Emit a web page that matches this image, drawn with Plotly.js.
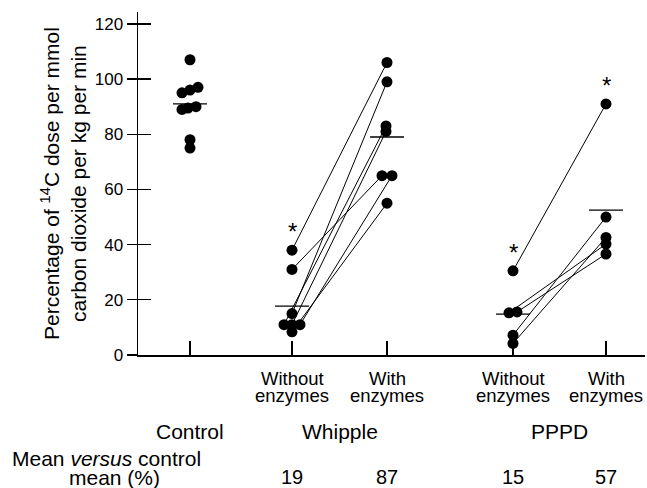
<!DOCTYPE html>
<html><head><meta charset="utf-8">
<script src="https://cdn.plot.ly/plotly-3.0.1.min.js"></script>
<style>html,body{margin:0;padding:0;background:#fff}#chart{width:647px;height:488px}</style>
</head><body><div id="chart"></div>
<script>
// ---- data ----
const groupNames = ["Control", "Whipple", "PPPD"];
const conditionNames = ["Without", "With"];
const controlValues = [107, 97, 96, 95, 90, 89.5, 89, 78, 75];
const whippleWithout = [38, 31, 15, 11, 11, 11, 8.4];
const whippleWith = [106, 65, 99, 83, 81, 65, 55];
const pppdWithout = [30.5, 15.3, 15.6, 7.2, 4.2];
const pppdWith = [91, 40.2, 36.6, 50, 42.6];
const columnMeans = [91, 17.7, 79, 14.8, 52.5];
const meanVsControl = ["19", "87", "15", "57"];
const yTicks = [0, 20, 40, 60, 80, 100, 120];
const starred = [[1, 0], [3, 0], [4, 0]]; // [column, point index]

// ---- layout helpers (positions / jitter, not data) ----
const colPos = [1.90, 2.92, 3.87, 5.13, 6.06];
const U = 0.01; // one pixel in x units
const jitter = [
  [0, 8, 0, -8, 6, -2, -8, 0, 0],
  [0, 0, 0, -8, 0, 8, 0],
  [0, -5, 0, -1, -1, 5, 0],
  [0, -4, 4, 0, 0],
  [0, 0, 0, 0, 0]
];
const colValues = [controlValues, whippleWithout, whippleWith, pppdWithout, pppdWith];
const xs = c => colValues[c].map((v, i) => colPos[c] + jitter[c][i] * U);

const FONT = "Liberation Sans, Arial, Helvetica, sans-serif";
const plotTop = 12, plotBottom = 355, plotLeft = 138, plotRight = 645;
const py = p => (plotBottom - p) / (plotBottom - plotTop);
const px = p => (p - plotLeft) / (plotRight - plotLeft);

function pairLines(a, b) {
  const xa = xs(a), xb = xs(b), X = [], Y = [];
  colValues[a].forEach((v, i) => { X.push(xa[i], xb[i], null); Y.push(v, colValues[b][i], null); });
  return {x: X, y: Y, mode: "lines", line: {color: "#000", width: 1}, hoverinfo: "skip", showlegend: false};
}
function markers(c, axis) {
  return {x: xs(c), y: colValues[c], mode: "markers", yaxis: axis || "y",
    marker: {color: "#000", size: 11}, showlegend: false, hoverinfo: "y"};
}
const meanX = [], meanY = [];
columnMeans.forEach((m, c) => { meanX.push(colPos[c] - 0.17, colPos[c] + 0.17, null); meanY.push(m, m, null); });

const traces = [
  pairLines(1, 2), pairLines(3, 4),
  {x: meanX, y: meanY, mode: "lines", line: {color: "#000", width: 1.3}, hoverinfo: "skip", showlegend: false},
  markers(0, "y2"), markers(1), markers(2), markers(3), markers(4)
];

function txt(xref, x, yPix, text, size) {
  return {xref: xref, yref: "paper", x: x, y: py(yPix), xanchor: "center", yanchor: "middle",
    showarrow: false, text: text, font: {family: FONT, size: size, color: "#000"}};
}
const ann = [];
ann.push({xref: "paper", yref: "paper", x: px(63), y: py(184), xanchor: "center", yanchor: "middle",
  textangle: -90, showarrow: false, font: {family: FONT, size: 21, color: "#000"},
  text: "Percentage of <sup>14</sup>C dose per mmol<br>carbon dioxide per kg per min"});
[1, 2, 3, 4].forEach(c => {
  ann.push(txt("x", colPos[c], 378, conditionNames[c % 2 === 1 ? 0 : 1], 18.5));
  ann.push(txt("x", colPos[c], 395, "enzymes", 18.5));
  ann.push(txt("x", colPos[c], 477, meanVsControl[c - 1], 20));
});
ann.push(txt("x", colPos[0], 431, groupNames[0], 21));
ann.push(txt("x", (colPos[1] + colPos[2]) / 2, 431, groupNames[1], 21));
ann.push(txt("x", (colPos[3] + colPos[4]) / 2, 431, groupNames[2], 21));
ann.push(txt("paper", px(106), 458, "Mean <i>versus</i> control", 21));
ann.push(txt("paper", px(114), 477, "mean (%)", 21));
starred.forEach(([c, i]) => {
  ann.push({xref: "x", yref: "y", x: xs(c)[i], y: colValues[c][i], xanchor: "center", showarrow: false,
    yanchor: "bottom", yshift: 3, text: "*", font: {family: FONT, size: 24, color: "#000"}});
});

const layout = {
  width: 647, height: 488,
  margin: {l: plotLeft, r: 647 - plotRight, t: plotTop, b: 488 - plotBottom},
  paper_bgcolor: "#fff", plot_bgcolor: "#fff",
  showlegend: false,
  xaxis: {range: [1.38, 6.45], showline: true, linecolor: "#000", linewidth: 1.5,
    ticks: "inside", ticklen: 14, tickwidth: 1.3, tickcolor: "#000", tickvals: colPos,
    showticklabels: false, showgrid: false, zeroline: false, fixedrange: true},
  yaxis: {range: [0, 124.3], showline: true, linecolor: "#000", linewidth: 1.5,
    ticks: "outside", ticklen: 10, tickwidth: 1.3, tickcolor: "#000", tickvals: yTicks,
    tickfont: {family: FONT, size: 17, color: "#000"}, showgrid: false, zeroline: false, fixedrange: true},
  yaxis2: {range: [0, 124.3], overlaying: "y", side: "left", showline: false,
    ticks: "inside", ticklen: 13, tickwidth: 1.3, tickcolor: "#000", tickvals: yTicks,
    showticklabels: false, showgrid: false, zeroline: false, fixedrange: true},
  annotations: ann
};
Plotly.newPlot("chart", traces, layout, {displayModeBar: false, staticPlot: true});
</script></body></html>
